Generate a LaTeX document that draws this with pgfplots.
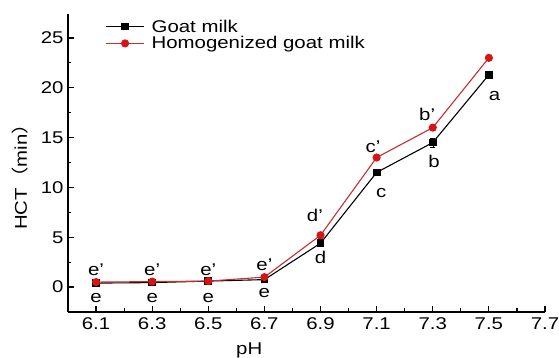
\documentclass[border=0pt]{standalone}
\usepackage{fontspec}
\setmainfont[FakeStretch=1.2]{Liberation Sans}
\newfontfamily\cjk[FakeStretch=1.2]{Noto Sans CJK SC}
\usepackage{pgfplots}
\pgfplotsset{compat=1.18}
\definecolor{hgred}{RGB}{215,20,20}
\definecolor{hgline}{RGB}{200,45,45}
\newcommand\chartfont{\fontsize{17}{20}\selectfont}
\begin{document}
\begin{tikzpicture}[x=1pt,y=1pt]
\begin{axis}[
  scale only axis,
  width=477pt, height=298pt,
  xmin=6.0, xmax=7.7,
  ymin=-2.5, ymax=27.4,
  axis x line*=bottom, axis y line*=left,
  axis line style={line width=1.5pt, -},
  xtick={6.1,6.3,...,7.7},
  xticklabels={6.1,6.3,6.5,6.7,6.9,7.1,7.3,7.5,7.7},
  minor xtick={6.0,6.2,6.4,6.6,6.8,7.0,7.2,7.4,7.6},
  ytick={0,5,10,15,20,25},
  minor ytick={-2.5,2.5,7.5,12.5,17.5,22.5},
  tick align=inside,
  major tick length=6pt, minor tick length=3.5pt,
  tick style={line width=1.2pt, black},
  /pgf/number format/assume math mode=true,
  ticklabel style={font=\chartfont},
  xticklabel style={yshift=-2pt},
  yticklabel style={xshift=-1pt},
  xlabel={pH}, ylabel={HCT{\cjk （}min{\cjk ）}},
  label style={font=\chartfont},
  xlabel style={at={(axis description cs:0.38,0)}, anchor=north, inner sep=0pt, yshift=-31pt},
  ylabel style={at={(axis description cs:-0.1,0.47)}, anchor=center, inner sep=0pt},
  legend style={draw=none, fill=none, at={(0.072,0.995)}, anchor=north west,
    font=\chartfont, row sep=-1pt, column sep=5pt},
  legend cell align=left,
  legend image code/.code={
    \draw[#1] (0pt,0pt) -- (38pt,0pt);
    \draw[#1, only marks] plot coordinates {(19pt,0pt)};
  },
  clip=false,
]
\addplot[black, line width=1.1pt, mark=square*, mark size=3.3pt,
  error bars/.cd, y dir=both, y explicit, error mark options={rotate=90, mark size=2.5pt, black}]
  table[x=ph, y=hct, y error=err] {
  ph   hct   err
  6.1  0.40  0.10
  6.3  0.45  0.10
  6.5  0.60  0.10
  6.7  0.75  0.15
  6.9  4.40  0.30
  7.1  11.50 0.30
  7.3  14.50 0.45
  7.5  21.30 0.30
};
\addlegendentry{Goat milk}
\addplot[hgline, line width=1.1pt, mark=*, mark size=3.5pt, mark options={fill=hgred, draw=hgred},
  error bars/.cd, y dir=both, y explicit, error mark options={rotate=90, mark size=2.5pt, hgred}]
  table[x=ph, y=hct, y error=err] {
  ph   hct   err
  6.1  0.50  0.10
  6.3  0.55  0.10
  6.5  0.60  0.10
  6.7  1.00  0.15
  6.9  5.20  0.30
  7.1  13.00 0.20
  7.3  16.00 0.25
  7.5  23.00 0.20
};
\addlegendentry{Homogenized goat milk}
% significance letters
\begin{scope}[every node/.style={font=\chartfont, inner sep=0pt}]
\node at (axis cs:6.1,1.7) {e'};
\node at (axis cs:6.3,1.7) {e'};
\node at (axis cs:6.5,1.7) {e'};
\node at (axis cs:6.7,2.2) {e'};
\node at (axis cs:6.1,-1.1) {e};
\node at (axis cs:6.3,-1.1) {e};
\node at (axis cs:6.5,-1.1) {e};
\node at (axis cs:6.7,-0.6) {e};
\node at (axis cs:6.88,7.2) {d'};
\node at (axis cs:6.9,3.0) {d};
\node at (axis cs:7.087,14.1) {c'};
\node at (axis cs:7.116,9.4) {c};
\node at (axis cs:7.28,17.3) {b'};
\node at (axis cs:7.305,12.6) {b};
\node at (axis cs:7.52,19.2) {a};
\end{scope}
\end{axis}
\pgfresetboundingbox
\path[use as bounding box] (current axis.south west) ++(-68pt,-46pt) rectangle ++(559pt,358pt);
\end{tikzpicture}
\end{document}
